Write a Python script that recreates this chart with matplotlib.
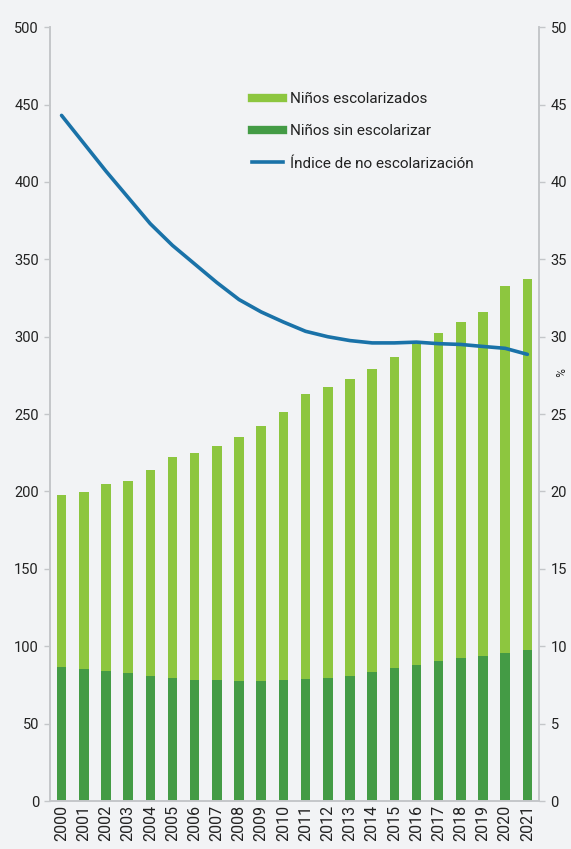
import matplotlib
matplotlib.use("Agg")
import matplotlib.pyplot as plt
from matplotlib.lines import Line2D

plt.rcParams["font.family"] = ["Roboto", "DejaVu Sans"]

YEARS = [str(y) for y in range(2000, 2022)]

# total children (millions), out-of-school children (millions), index (%)
TOTAL = [197.5, 199.5, 205, 206.5, 214, 222, 225, 229.5, 235, 242, 251.5,
         263, 267.4, 272.6, 279.3, 286.8, 295.2, 302.3, 309.2, 315.9, 332.7, 337.2]
OUT_OF_SCHOOL = [86.5, 85.2, 83.7, 82.4, 81.1, 79.7, 78.5, 78.0, 77.6, 77.5, 77.9,
                 78.6, 79.7, 81.0, 83.3, 85.7, 87.8, 90.2, 92.2, 93.9, 95.8, 97.3]
INDEX = [44.3, 42.5, 40.7, 39.0, 37.3, 35.9, 34.7, 33.5, 32.4, 31.6, 30.95,
         30.35, 30.0, 29.75, 29.6, 29.6, 29.65, 29.55, 29.5, 29.37, 29.25, 28.86]

LIGHT = "#8dc63f"
DARK = "#449b45"
BLUE = "#1a72a8"
BG = "#f2f3f5"
SPINE = "#c4c6c9"
TEXT = "#222222"

in_school = [t - o for t, o in zip(TOTAL, OUT_OF_SCHOOL)]
x = list(range(len(YEARS)))

fig = plt.figure(figsize=(5.71, 8.49), dpi=100, facecolor=BG)
ax = fig.add_axes([0.0876, 0.0565, 0.857, 0.9115], facecolor=BG)
ax2 = ax.twinx()

ax.bar(x, OUT_OF_SCHOOL, width=0.43, color=DARK, zorder=2)
ax.bar(x, in_school, bottom=OUT_OF_SCHOOL, width=0.43, color=LIGHT, zorder=2)
ax2.plot(x, INDEX, color=BLUE, lw=2.6, solid_capstyle="round")

ax.set_xlim(-0.52, 21.54)
ax.set_ylim(0, 500)
ax2.set_ylim(0, 50)
ax.set_yticks(range(0, 501, 50))
ax2.set_yticks(range(0, 51, 5))
ax.set_xticks(x)
ax.set_xticklabels(YEARS, rotation=90, fontsize=11.5, color=TEXT)

for a in (ax, ax2):
    a.spines["top"].set_visible(False)
    for s in ("left", "right", "bottom"):
        a.spines[s].set_color(SPINE)
        a.spines[s].set_linewidth(1.2)
    a.tick_params(axis="y", colors=SPINE, labelcolor=TEXT, labelsize=10.5,
                  length=4, width=1, pad=4)
ax.tick_params(axis="x", length=0, pad=3)

ax2.text(1.038, 0.554, "%", transform=ax2.transAxes, rotation=-90,
         fontsize=8.5, color=TEXT, ha="center", va="center")

handles = [
    Line2D([0], [0], color=LIGHT, lw=6),
    Line2D([0], [0], color=DARK, lw=6),
    Line2D([0], [0], color=BLUE, lw=2.6),
]
labels = ["Niños escolarizados", "Niños sin escolarizar", "Índice de no escolarización"]
ax.legend(handles, labels, loc="upper left", bbox_to_anchor=(0.385, 0.934),
          frameon=False, fontsize=11, handlelength=2.0, handletextpad=0.5,
          labelspacing=1.2, labelcolor=TEXT)

fig.savefig("out.png", dpi=100, facecolor=BG)
